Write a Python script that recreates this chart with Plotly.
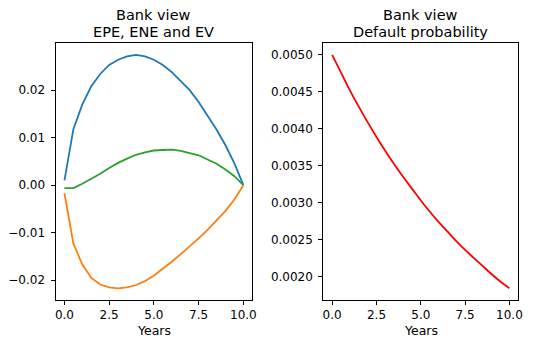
import plotly.graph_objects as go

# ---- data ----
years = [0.0, 0.5, 1.0, 1.5, 2.0, 2.5, 3.0, 3.5, 4.0, 4.5, 5.0,
         5.5, 6.0, 6.5, 7.0, 7.5, 8.0, 8.5, 9.0, 9.5, 10.0]
epe = [0.0010, 0.0118, 0.0170, 0.0208, 0.0234, 0.0253, 0.0264, 0.0271, 0.0274, 0.0271, 0.0264,
       0.0253, 0.0238, 0.0220, 0.0200, 0.0175, 0.0147, 0.0117, 0.0084, 0.0046, 0.0000]
ene = [-0.0017, -0.0123, -0.0167, -0.0195, -0.0209, -0.0215, -0.0217, -0.0215, -0.0210, -0.0202, -0.0190,
       -0.0176, -0.0161, -0.0145, -0.0129, -0.0112, -0.0094, -0.0075, -0.0054, -0.0030, 0.0000]
ev = [-0.0006, -0.0006, 0.0003, 0.0013, 0.0024, 0.0036, 0.0047, 0.0056, 0.0064, 0.0069, 0.0073,
      0.0074, 0.0075, 0.0072, 0.0068, 0.0063, 0.0054, 0.0045, 0.0033, 0.0019, 0.0000]
pd_years = [0.0, 0.5, 1.0, 1.5, 2.0, 2.5, 3.0, 3.5, 4.0, 4.5, 5.0,
            5.5, 6.0, 6.5, 7.0, 7.5, 8.0, 8.5, 9.0, 9.5, 10.0]
default_prob = [0.00500, 0.00476, 0.00452, 0.00430, 0.00409, 0.00389, 0.00370, 0.00352, 0.00335, 0.00319, 0.00303,
                0.00288, 0.00274, 0.00261, 0.00248, 0.00236, 0.00225, 0.00214, 0.00203, 0.00193, 0.00184]

title_left = ["Bank view", "EPE, ENE and EV"]
title_right = ["Bank view", "Default probability"]
xlabel = "Years"

# page body has an 8px margin: figure fills the rest of the 533x348 window
OFF = 8
W, H = 533 - 2 * OFF, 348 - 2 * OFF
FONT = "DejaVu Sans"
LW = 1.8


def pad_range(vals, frac=0.05):
    lo, hi = min(vals), max(vals)
    s = hi - lo
    return [lo - frac * s, hi + frac * s]


def px_x(p):
    return (p - OFF) / W


def px_y(p):
    return 1 - (p - OFF) / H


fig = go.Figure()
fig.add_trace(go.Scatter(x=years, y=epe, mode="lines", line=dict(color="#1f77b4", width=LW), xaxis="x", yaxis="y"))
fig.add_trace(go.Scatter(x=years, y=ene, mode="lines", line=dict(color="#ff7f0e", width=LW), xaxis="x", yaxis="y"))
fig.add_trace(go.Scatter(x=years, y=ev, mode="lines", line=dict(color="#2ca02c", width=LW), xaxis="x", yaxis="y"))
fig.add_trace(go.Scatter(x=pd_years, y=default_prob, mode="lines",
                         line=dict(color="#ff0000", width=LW, shape="spline", smoothing=1.0),
                         xaxis="x2", yaxis="y2"))

# screen-pixel placement of the two axes boxes
left_px = (55.5, 252.3)
right_px = (323.3, 518.3)
top_px, bot_px = 43.3, 300.0
ydom = [px_y(bot_px), px_y(top_px)]

axis_common = dict(
    showline=True, mirror=True, linecolor="black", linewidth=1,
    ticks="outside", ticklen=4, tickwidth=1, tickcolor="black",
    showgrid=False, zeroline=False, automargin=False,
    tickfont=dict(family=FONT, size=12, color="black"),
)

all_left = epe + ene + ev
fig.update_layout(
    width=W, height=H,
    margin=dict(l=0, r=0, t=0, b=0),
    paper_bgcolor="white", plot_bgcolor="white",
    showlegend=False,
    font=dict(family=FONT, size=12, color="black"),
    xaxis=dict(domain=[px_x(left_px[0]), px_x(left_px[1])], range=pad_range(years), anchor="y",
               tickmode="linear", tick0=0, dtick=2.5, tickformat=".1f", **axis_common),
    yaxis=dict(domain=ydom, range=pad_range(all_left), anchor="x",
               tickmode="linear", tick0=0, dtick=0.01, tickformat=".2f", ticklabelstandoff=3, **axis_common),
    xaxis2=dict(domain=[px_x(right_px[0]), px_x(right_px[1])], range=pad_range(pd_years), anchor="y2",
                tickmode="linear", tick0=0, dtick=2.5, tickformat=".1f", **axis_common),
    yaxis2=dict(domain=ydom, range=pad_range(default_prob), anchor="x2",
                tickmode="linear", tick0=0, dtick=0.0005, tickformat=".4f", ticklabelstandoff=3, **axis_common),
)

annotations = []
for xref, lines in (("x domain", title_left), ("x2 domain", title_right)):
    for i, txt in enumerate(lines):
        annotations.append(dict(text=txt, xref=xref, yref="paper", x=0.5, y=px_y(15.2 + 17.0 * i),
                                xanchor="center", yanchor="middle", showarrow=False,
                                font=dict(family=FONT, size=14.5, color="black")))
    annotations.append(dict(text=xlabel, xref=xref, yref="paper", x=0.5, y=px_y(330.5),
                            xanchor="center", yanchor="middle", showarrow=False,
                            font=dict(family=FONT, size=12.5, color="black")))
fig.update_layout(annotations=annotations)

fig.write_html("out.html")
